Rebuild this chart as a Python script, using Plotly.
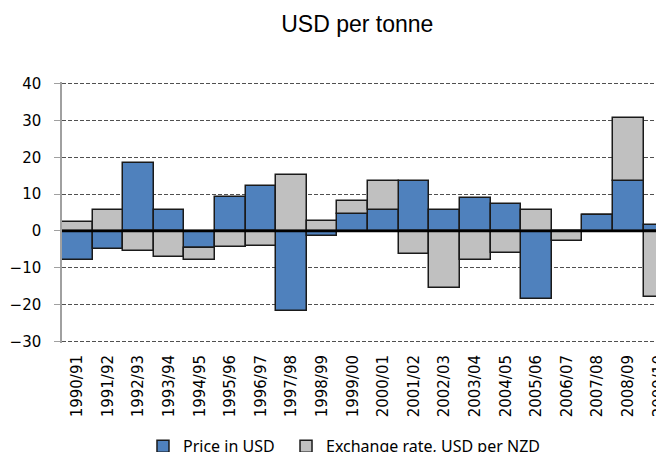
import plotly.graph_objects as go

# Jahre (Kategorien)
years = ["1990/91", "1991/92", "1992/93", "1993/94", "1994/95", "1995/96", "1996/97",
         "1997/98", "1998/99", "1999/00", "2000/01", "2001/02", "2002/03", "2003/04",
         "2004/05", "2005/06", "2006/07", "2007/08", "2008/09", "2009/10"]

# Beitrag des Preises in USD
price_usd = [-7.9, -4.8, 18.5, 5.8, -4.7, 9.1, 12.2, -21.7, -1.3, 4.6,
             5.7, 13.6, 5.7, 9.0, 7.4, -18.5, 0.0, 4.3, 13.6, 1.5]

# Beitrag des Wechselkurses
exchange_rate = [2.4, 5.8, -5.5, -7.1, -3.3, -4.4, -4.0, 15.3, 2.7, 3.6,
                 7.9, -6.4, -15.5, -8.0, -5.9, 5.7, -2.7, 0.0, 17.1, -17.9]

fig = go.Figure()
fig.add_trace(go.Bar(x=years, y=price_usd, name="Price in USD", legend="legend",
                     marker=dict(color="#4F81BD", line=dict(color="#1a1a1a", width=1.5))))
fig.add_trace(go.Bar(x=years, y=exchange_rate, name="Exchange rate, USD per NZD",
                     legend="legend2",
                     marker=dict(color="#C0C0C0", line=dict(color="#1a1a1a", width=1.5))))

# Nulllinie über den Balken
fig.add_shape(type="line", xref="paper", x0=0, x1=1, yref="y", y0=0, y1=0,
              line=dict(color="black", width=2.5), layer="above")

legend_style = dict(orientation="h", xref="container", xanchor="left",
                    yref="container", y=0.068, yanchor="top",
                    font=dict(family="Noto Sans", size=16), itemwidth=30)

fig.update_layout(
    width=664, height=452,
    showlegend=True,
    barmode="relative", bargap=0,
    plot_bgcolor="white", paper_bgcolor="white",
    margin=dict(l=54, r=0, t=74, b=117),
    title=dict(text="USD per tonne", x=0.526, xanchor="center", xref="container",
               y=0.965, yanchor="middle", yref="container",
               font=dict(family="Liberation Sans, Arial", size=23, color="black")),
    font=dict(family="DejaVu Sans", size=14, color="black"),
    legend=dict(x=0.2033, **legend_style),
    legend2=dict(x=0.4187, **legend_style),
    xaxis=dict(range=[-0.5, 19.43], tickangle=-90, showgrid=False, showline=False,
               ticks="", ticklabelstandoff=8, tickfont=dict(size=15)),
    yaxis=dict(range=[-30.45, 40.45], tickvals=[-30, -20, -10, 0, 10, 20, 30, 40],
               showgrid=True, gridcolor="#505050",
               griddash="4px,2px", gridwidth=1, zeroline=False, showline=True,
               linecolor="#a0a0a0", linewidth=1.5, ticks="outside", ticklen=6,
               tickcolor="#a0a0a0", ticklabelstandoff=10, tickfont=dict(size=15)),
)

fig.write_html("out.html")
